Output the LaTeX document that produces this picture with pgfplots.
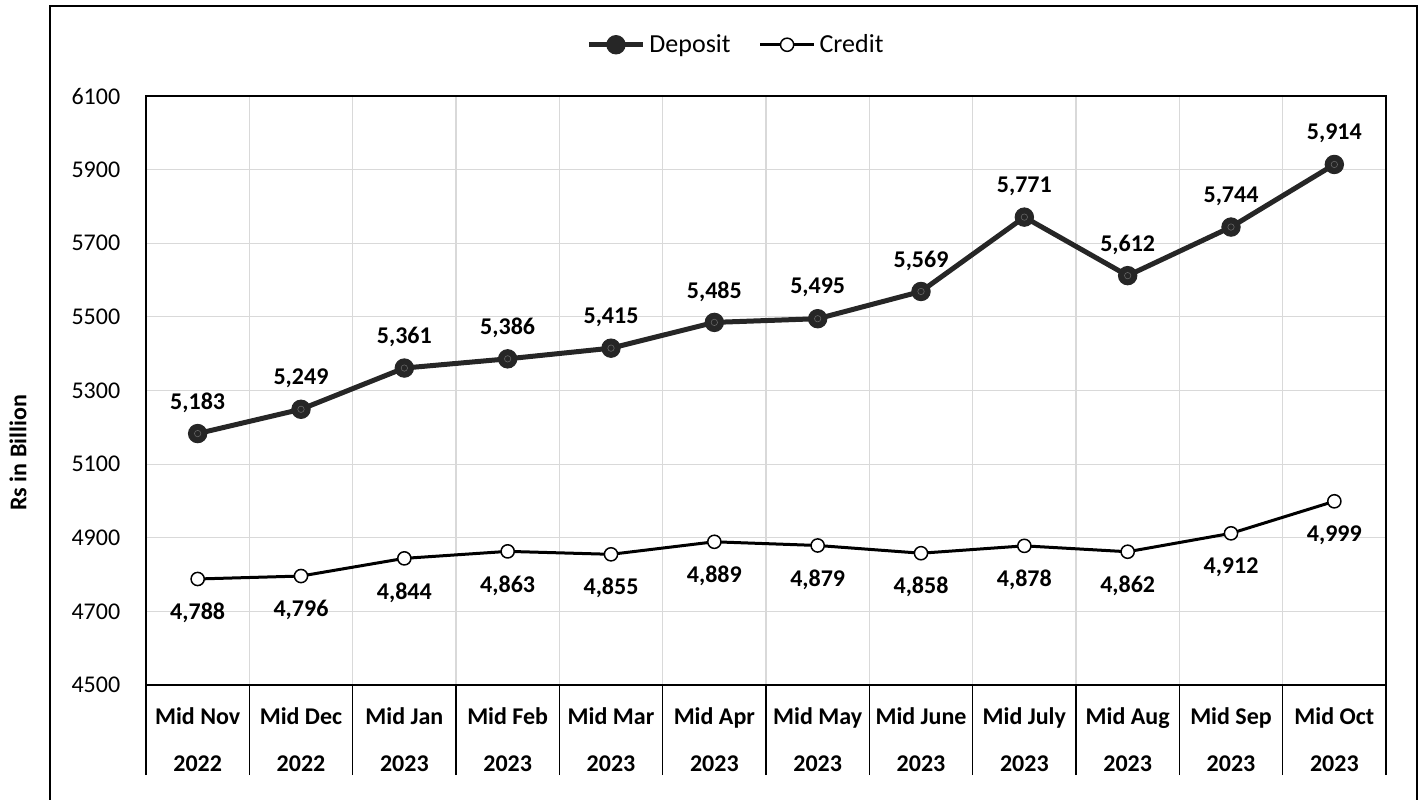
\documentclass[border=0pt]{standalone}
\usepackage{fontspec}
\setmainfont{Carlito}
\usepackage{pgfplots}
\pgfplotsset{compat=1.18}
\definecolor{dep}{HTML}{262626}
\definecolor{gridc}{HTML}{D9D9D9}
\begin{document}
\begin{tikzpicture}
\useasboundingbox (0,0) rectangle (712pt,399.5pt);
\draw[line width=0.75pt] (25pt,396.5pt) rectangle (708.5pt,-10pt);
\begin{axis}[
  at={(73pt,57pt)}, anchor=south west,
  scale only axis, width=620pt, height=294.5pt,
  xmin=-0.5, xmax=11.5, ymin=4500, ymax=6100,
  ytick={4500,4700,...,6100},
  yticklabels={4500,4700,4900,5100,5300,5500,5700,5900,6100},
  yticklabel style={font=\fontsize{12}{14}\selectfont, anchor=east, inner sep=0pt, xshift=-12.7pt},
  ymajorgrids, major grid style={gridc, line width=0.6pt},
  xtick={0,...,11},
  xticklabels={Mid Nov\\2022, Mid Dec\\2022, Mid Jan\\2023, Mid Feb\\2023, Mid Mar\\2023, Mid Apr\\2023, Mid May\\2023, Mid June\\2023, Mid July\\2023, Mid Aug\\2023, Mid Sep\\2023, Mid Oct\\2023},
  xticklabel style={font={\fontsize{12}{23.5}\selectfont\bfseries}, align=center, anchor=north, inner sep=0pt, yshift=-11pt},
  minor xtick={-0.5,0.5,...,11.5},
  xminorgrids, minor grid style={gridc, line width=0.6pt},
  major tick length=0pt, minor tick length=45pt,
  tick align=outside, xtick pos=bottom, ytick pos=left,
  minor tick style={black, line width=0.75pt},
  axis line style={black, line width=0.75pt},
  ylabel={Rs in Billion},
  ylabel style={font=\fontsize{12}{14}\selectfont\bfseries, at={(axis description cs:-0.1032,0.394)}, anchor=center, rotate=0},
  legend columns=2,
  legend style={at={(axis description cs:0.4766,1.087)}, anchor=center, draw=none, fill=none,
    font=\fontsize{13}{15}\selectfont, inner sep=0pt,
    /tikz/every even column/.append style={column sep=12pt}},
  legend image code/.code={\draw[mark repeat=2,mark phase=2,#1] plot coordinates {(0pt,0pt) (13.5pt,0pt) (27pt,0pt)};},
  nodes near coords={\pgfmathprintnumber[assume math mode=true,1000 sep={,}]{\pgfplotspointmeta}},
  every node near coord/.append style={font=\fontsize{12}{14}\selectfont\bfseries, anchor=center, black},
  clip=false,
]
\addplot[dep, line width=2.5pt, mark=*, mark size=4.6pt, mark options={fill=dep, draw=dep, line width=0.5pt},
  every node near coord/.append style={yshift=15.5pt}]
  coordinates {(0,5183) (1,5249) (2,5361) (3,5386) (4,5415) (5,5485) (6,5495) (7,5569) (8,5771) (9,5612) (10,5744) (11,5914)};
\addlegendentry{Deposit}
\addplot[black, line width=1.5pt, mark=*, mark size=3.3pt, mark options={fill=white, draw=black, line width=0.75pt},
  every node near coord/.append style={yshift=-17pt}]
  coordinates {(0,4788) (1,4796) (2,4844) (3,4863) (4,4855) (5,4889) (6,4879) (7,4858) (8,4878) (9,4862) (10,4912) (11,4999)};
\addlegendentry{Credit}
\addplot[forget plot, only marks, nodes near coords={}, mark=o, mark size=1.6pt, mark options={draw=gray!70!dep, line width=0.3pt}]
  coordinates {(0,5183) (1,5249) (2,5361) (3,5386) (4,5415) (5,5485) (6,5495) (7,5569) (8,5771) (9,5612) (10,5744) (11,5914)};
\end{axis}
\end{tikzpicture}
\end{document}
